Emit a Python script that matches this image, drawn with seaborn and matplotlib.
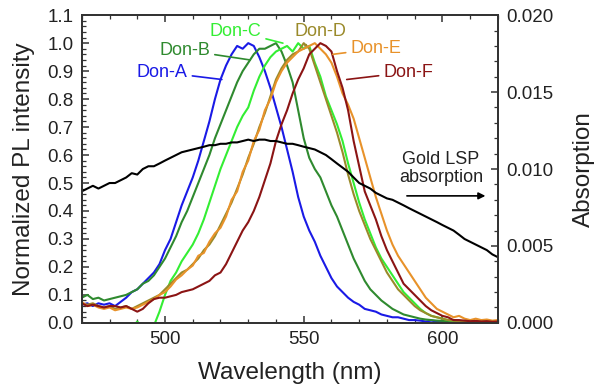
import numpy as np
import pandas as pd
import matplotlib
matplotlib.use("Agg")
import matplotlib.pyplot as plt
import seaborn as sns
from matplotlib.ticker import MultipleLocator

wavelength = list(range(470, 621, 2))

don_a = [0.065, 0.07, 0.06, 0.07, 0.065, 0.07, 0.06, 0.075, 0.09, 0.11,
         0.12, 0.14, 0.16, 0.18, 0.21, 0.26, 0.30, 0.36, 0.42, 0.47,
         0.52, 0.58, 0.65, 0.72, 0.80, 0.87, 0.92, 0.96, 0.99, 0.98,
         1.00, 0.99, 0.95, 0.90, 0.84, 0.77, 0.70, 0.62, 0.54, 0.45,
         0.38, 0.33, 0.29, 0.24, 0.20, 0.16, 0.13, 0.11, 0.09, 0.075,
         0.065, 0.05, 0.045, 0.04, 0.03, 0.025, 0.02, 0.02, 0.015, 0.01,
         0.01, 0.008, 0.005, 0.008, 0.005, 0.006, 0.004, 0.005, 0.004, 0.006,
         0.004, 0.005, 0.004, 0.006, 0.004, 0.005]

don_b = [0.09, 0.10, 0.085, 0.09, 0.08, 0.085, 0.09, 0.095, 0.10, 0.11,
         0.12, 0.14, 0.15, 0.17, 0.20, 0.23, 0.27, 0.31, 0.36, 0.40,
         0.45, 0.50, 0.55, 0.60, 0.66, 0.71, 0.76, 0.81, 0.86, 0.90,
         0.93, 0.96, 0.98, 0.98, 0.99, 1.00, 0.97, 0.92, 0.86, 0.76,
         0.66, 0.59, 0.55, 0.52, 0.47, 0.42, 0.38, 0.33, 0.28, 0.23,
         0.19, 0.15, 0.12, 0.10, 0.08, 0.065, 0.05, 0.04, 0.03, 0.025,
         0.02, 0.015, 0.012, 0.01, 0.008, 0.007, 0.006, 0.007, 0.005, 0.006,
         0.005, 0.006, 0.005, 0.004, 0.005, 0.005]

don_c = [-0.06, -0.05, -0.06, -0.05, -0.06, -0.05, -0.04, -0.05, -0.03, -0.02,
         0.005, -0.02, -0.04, -0.01, 0.04, 0.10, 0.15, 0.18, 0.22, 0.25,
         0.28, 0.32, 0.37, 0.43, 0.49, 0.55, 0.60, 0.65, 0.70, 0.74,
         0.77, 0.83, 0.88, 0.92, 0.95, 0.97, 0.98, 0.99, 0.97, 1.00,
         0.98, 0.99, 0.93, 0.88, 0.81, 0.76, 0.71, 0.65, 0.57, 0.50,
         0.43, 0.37, 0.32, 0.27, 0.23, 0.20, 0.17, 0.14, 0.11, 0.09,
         0.07, 0.05, 0.035, 0.025, 0.02, 0.015, 0.01, 0.008, 0.006, 0.005,
         0.006, 0.004, 0.005, 0.004, 0.005, 0.004]

don_d = [0.07, 0.065, 0.07, 0.06, 0.055, 0.06, 0.05, 0.055, 0.06, 0.05,
         0.06, 0.07, 0.08, 0.09, 0.10, 0.12, 0.14, 0.16, 0.18, 0.19,
         0.21, 0.23, 0.26, 0.28, 0.31, 0.35, 0.39, 0.43, 0.48, 0.53,
         0.59, 0.64, 0.70, 0.75, 0.81, 0.87, 0.91, 0.94, 0.96, 0.97,
         1.00, 0.98, 0.92, 0.86, 0.80, 0.74, 0.68, 0.61, 0.53, 0.46,
         0.40, 0.35, 0.30, 0.26, 0.22, 0.18, 0.15, 0.12, 0.10, 0.08,
         0.06, 0.045, 0.035, 0.025, 0.02, 0.015, 0.01, 0.008, 0.006, 0.007,
         0.005, 0.006, 0.004, 0.005, 0.004, 0.005]

don_e = [0.075, 0.06, 0.065, 0.055, 0.05, 0.055, 0.045, 0.05, 0.055, 0.05,
         0.055, 0.065, 0.075, 0.085, 0.10, 0.11, 0.13, 0.155, 0.17, 0.19,
         0.205, 0.24, 0.25, 0.29, 0.32, 0.34, 0.38, 0.44, 0.47, 0.54,
         0.58, 0.65, 0.69, 0.76, 0.80, 0.86, 0.90, 0.93, 0.95, 0.97,
         0.98, 0.99, 1.00, 0.98, 0.96, 0.93, 0.88, 0.82, 0.78, 0.73,
         0.66, 0.59, 0.52, 0.45, 0.39, 0.33, 0.28, 0.24, 0.21, 0.18,
         0.15, 0.12, 0.09, 0.07, 0.05, 0.04, 0.03, 0.02, 0.025, 0.015,
         0.01, 0.015, 0.01, 0.012, 0.008, 0.01]

don_f = [0.07, 0.06, 0.065, 0.06, 0.055, 0.06, 0.06, 0.055, 0.06, 0.05,
         0.04, 0.05, 0.07, 0.085, 0.09, 0.09, 0.095, 0.10, 0.11, 0.115,
         0.12, 0.13, 0.14, 0.15, 0.17, 0.18, 0.21, 0.25, 0.29, 0.33,
         0.36, 0.40, 0.45, 0.51, 0.57, 0.65, 0.71, 0.76, 0.82, 0.87,
         0.91, 0.96, 0.98, 1.00, 0.99, 0.97, 0.90, 0.84, 0.76, 0.65,
         0.56, 0.47, 0.42, 0.37, 0.31, 0.26, 0.22, 0.18, 0.14, 0.12,
         0.10, 0.08, 0.06, 0.045, 0.035, 0.025, 0.02, 0.01, 0.01, 0.008,
         0.006, 0.007, 0.005, 0.006, 0.004, 0.005]

gold_lsp = [0.00855, 0.00873, 0.00891, 0.00873, 0.00891, 0.00909, 0.00909, 0.00927, 0.00945, 0.00973,
            0.00964, 0.01000, 0.01018, 0.01018, 0.01036, 0.01055, 0.01073, 0.01091, 0.01109, 0.01118,
            0.01127, 0.01136, 0.01145, 0.01155, 0.01155, 0.01164, 0.01164, 0.01173, 0.01173, 0.01182,
            0.01191, 0.01182, 0.01191, 0.01191, 0.01182, 0.01182, 0.01173, 0.01164, 0.01164, 0.01155,
            0.01145, 0.01136, 0.01127, 0.01109, 0.01091, 0.01064, 0.01036, 0.01009, 0.00982, 0.00945,
            0.00909, 0.00891, 0.00873, 0.00845, 0.00827, 0.00809, 0.00800, 0.00782, 0.00764, 0.00745,
            0.00727, 0.00709, 0.00691, 0.00673, 0.00655, 0.00636, 0.00618, 0.00600, 0.00573, 0.00545,
            0.00527, 0.00509, 0.00491, 0.00473, 0.00445, 0.00427]

series_names = ["Don-A", "Don-B", "Don-C", "Don-D", "Don-E", "Don-F"]
series_values = [don_a, don_b, don_c, don_d, don_e, don_f]
colors = ["#1a1ae6", "#2f8a2f", "#33ee33", "#9a8a2a", "#e8922a", "#8b1414"]

sns.set_style("ticks")
plt.rcParams["font.family"] = ["Liberation Sans", "DejaVu Sans"]

fig = plt.figure(figsize=(5.97, 3.89), dpi=100)
ax = fig.add_axes([0.137, 0.170, 0.697, 0.791])

for name, vals, col in zip(series_names, series_values, colors):
    sns.lineplot(x=wavelength, y=vals, ax=ax, color=col, lw=1.5, legend=False)

ax2 = ax.twinx()
sns.lineplot(x=wavelength, y=gold_lsp, ax=ax2, color="black", lw=1.5, legend=False)

ax.set_xlim(470, 620)
ax.set_ylim(0, 1.1)
ax2.set_ylim(0, 0.020)

ax.xaxis.set_major_locator(MultipleLocator(50))
ax.xaxis.set_minor_locator(MultipleLocator(10))
ax.yaxis.set_major_locator(MultipleLocator(0.1))
ax.yaxis.set_minor_locator(MultipleLocator(0.02))
ax2.yaxis.set_major_locator(MultipleLocator(0.005))
ax2.yaxis.set_minor_locator(MultipleLocator(0.001))
ax.yaxis.set_major_formatter(matplotlib.ticker.FormatStrFormatter("%.1f"))
ax2.yaxis.set_major_formatter(matplotlib.ticker.FormatStrFormatter("%.3f"))

spine_col = "#333333"
for a in (ax, ax2):
    for s in a.spines.values():
        s.set_color(spine_col)
        s.set_linewidth(1.3)
ax.tick_params(axis="both", which="both", direction="in", colors=spine_col,
               labelcolor="#222222", labelsize=13.5, top=True, right=False, pad=6)
ax.tick_params(which="major", length=5, width=1.1)
ax.tick_params(which="minor", length=3, width=0.9)
ax2.tick_params(axis="y", which="both", direction="in", colors=spine_col,
                labelcolor="#222222", labelsize=13.5, pad=6)
ax2.tick_params(which="major", length=5, width=1.1)
ax2.tick_params(which="minor", length=3, width=0.9)

ax.set_xlabel("Wavelength (nm)", fontsize=17.5, color="#222222", labelpad=10)
ax.set_ylabel("Normalized PL intensity", fontsize=17.5, color="#222222", labelpad=9)
ax2.set_ylabel("Absorption", fontsize=17.5, color="#222222", labelpad=14)

label_pos = [(499.0, 0.896), (507.1, 0.975), (525.4, 1.043), (556.2, 1.040), (576.0, 0.980), (587.7, 0.896)]
line_end = [(520.5, 0.87), (530.6, 0.94), (542.5, 1.00), (550.4, 0.99), (560.5, 0.96), (565.5, 0.87)]
for name, col, tp, ep in zip(series_names, colors, label_pos, line_end):
    ax.annotate(name, xy=ep, xytext=tp, ha="center", va="center", fontsize=13,
                color=col, arrowprops=dict(arrowstyle="-", color=col, lw=1.2,
                                           shrinkA=1, shrinkB=0))

ax.text(599.5, 0.553, "Gold LSP\nabsorption", ha="center", va="center",
        fontsize=13, color="#222222", linespacing=1.1)
ax.annotate("", xy=(615.5, 0.454), xytext=(587.2, 0.454),
            arrowprops=dict(arrowstyle="-|>", color="black", lw=1.2,
                            mutation_scale=10, shrinkA=0, shrinkB=0))

fig.savefig("out.png", dpi=100)
